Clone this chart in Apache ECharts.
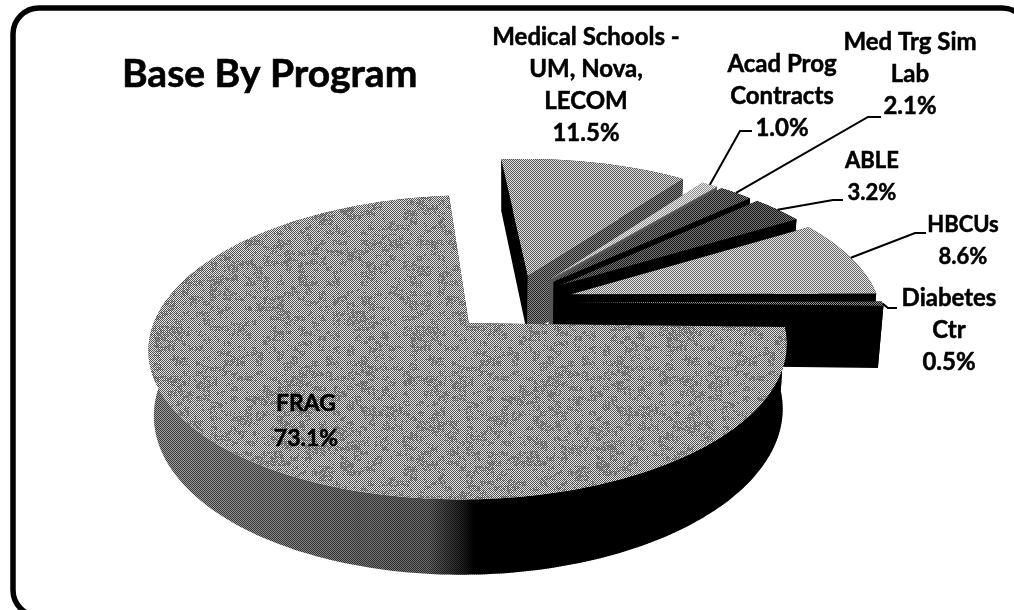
<!DOCTYPE html>
<html><head><meta charset="utf-8">
<style>html,body{margin:0;padding:0;background:#fff;overflow:hidden}#c{width:1014px;height:610px}</style>
<script src="https://cdn.jsdelivr.net/npm/echarts@6/dist/echarts.min.js"></script>
</head><body><div id="c"></div>
<script>
const categories = ['Medical Schools - UM, Nova, LECOM','Acad Prog Contracts','Med Trg Sim Lab','ABLE','HBCUs','Diabetes Ctr','FRAG'];
const values = [11.5,1.0,2.1,3.2,8.6,0.5,73.1];
const labelLines = [['Medical Schools -','UM, Nova,','LECOM','11.5%'],['Acad Prog','Contracts','1.0%'],['Med Trg Sim','Lab','2.1%'],['ABLE','3.2%'],['HBCUs','8.6%'],['Diabetes','Ctr','0.5%'],['FRAG','73.1%']];

// Layout of the projected disc
const CX=512, CY=302, R=308, EXPLODE=62, TILT=0.46, PERSP=2000, WALL=62, START_DEG=-5.4;
// Label anchors and leader elbows (layout only)
const labelPos=[[586,37],[782,64],[910,42],[872,161],[963,225],[949,298],[306,404]];
const labelSize=[24,24,24,22,22,24,23];
const elbows=[null,[[740,131],[752,131]],[[868,117],[881,117]],[[833,200],[843,200]],[[915,233],[926,233]],[[888,308],[897,308]],null];

function tile(seed,a,b,noise){
  const n=256,c=document.createElement('canvas');c.width=c.height=n;
  const g=c.getContext('2d');
  for(let y=0;y<n;y++)for(let x=0;x<n;x++){
    const light=(x+y)%2!==0;
    let col=light?b:a;
    if(noise&&light){
      let h=Math.sin(x*12.9898+y*78.233+seed)*43758.5453;h=h-Math.floor(h);
      let k=Math.sin(Math.floor(x/7)*3.1+Math.floor(y/5)*5.7+seed)*9631.17;k=k-Math.floor(k);
      if((k>0.6&&h>0.5)||h>0.97)col=noise;
    }
    g.fillStyle=col;g.fillRect(x,y,1,1);
  }
  return {image:c,repeat:'repeat'};
}
const topFill=[tile(1,'#5a5a5a','#e0e0e0'),tile(2,'#8a8a8a','#f0f0f0'),tile(3,'#1c1c1c','#7c7c7c'),tile(4,'#161616','#747474'),tile(5,'#666666','#e8e8e8'),tile(6,'#111111','#8c8c8c'),tile(7,'#505050','#e6e6e6','#989898')];
const cutFill=[['#000','#000'],['#555','#555'],['#000','#000'],['#000','#000'],['#000','#000'],['#000','#000'],['#000','#000']];
const medRight=tile(8,'#222222','#8a8a8a');
const wallDither=tile(9,'rgba(0,0,0,0.62)','rgba(0,0,0,0)');
const outerFill=['#000','#777','#000','#000','#000','#000',null];

function project(u,v,z){
  const p=PERSP/(PERSP-v);
  const xs=z?0.985:1;
  return [CX+u*p*xs, CY+v*TILT*p+z*p];
}
function geometry(idx){
  const total=values.reduce((a,b)=>a+b,0);
  let before=0;for(let i=0;i<idx;i++)before+=values[i];
  const a0=(START_DEG+before/total*360)*Math.PI/180;
  const a1=a0+values[idx]/total*2*Math.PI;
  const mid=(a0+a1)/2;
  return {a0,a1,mid,ou:EXPLODE*Math.sin(mid),ov:-EXPLODE*Math.cos(mid)};
}
function rim(g,z){
  const n=Math.max(4,Math.ceil((g.a1-g.a0)/0.02)),pts=[];
  for(let i=0;i<=n;i++){
    const t=g.a0+(g.a1-g.a0)*i/n;
    pts.push(project(g.ou+R*Math.sin(t),g.ov-R*Math.cos(t),z));
  }
  return pts;
}
function renderItem(params){
  const i=params.dataIndex,g=geometry(i);
  const apexT=project(g.ou,g.ov,0),apexB=project(g.ou,g.ov,WALL);
  const T=rim(g,0),B=rim(g,WALL),ch=[];
  const poly=(points,fill)=>ch.push({type:'polygon',shape:{points},style:{fill,stroke:null}});
  const wall=T.concat(B.slice().reverse());
  if(i===6){
    poly(wall,{type:'linear',x:150,y:0,x2:474,y2:0,global:true,colorStops:[{offset:0,color:'#a0a0a0'},{offset:0.55,color:'#808080'},{offset:0.86,color:'#6c6c6c'},{offset:0.97,color:'#1c1c1c'},{offset:1,color:'#000'}]});
    poly(wall,wallDither);
  } else {
    poly(wall,outerFill[i]);
  }
  poly([apexT,T[0],B[0],apexB],cutFill[i][0]);
  poly([apexT,T[T.length-1],B[B.length-1],apexB],i===0?medRight:cutFill[i][1]);
  poly([apexT].concat(T),topFill[i]);
  if(elbows[i]){
    const a=project(g.ou+R*Math.sin(g.mid),g.ov-R*Math.cos(g.mid),0);
    ch.push({type:'polyline',shape:{points:[a].concat(elbows[i])},style:{stroke:'#000',lineWidth:2,fill:null}});
  }
  const lh=i===6?35:32;
  labelLines[i].forEach((t,k)=>{
    ch.push({type:'text',style:{text:t,x:labelPos[i][0],y:labelPos[i][1]+k*lh,align:'center',verticalAlign:'middle',
      font:'bold '+labelSize[i]+'px Lato, sans-serif',fill:'#000',stroke:'#000',lineWidth:0.5},z2:10});
  });
  return {type:'group',children:ch};
}
const chart=echarts.init(document.getElementById('c'),null,{renderer:'canvas',width:1014,height:610});
chart.setOption({
  animation:false,backgroundColor:'#fff',
  title:{text:'Base By Program',left:117,top:50,textStyle:{fontFamily:'Lato, sans-serif',fontWeight:'bold',fontSize:39,color:'#000',textBorderColor:'#000',textBorderWidth:0.6}},
  graphic:[{type:'rect',silent:true,z:-1,shape:{x:13,y:8,width:1015,height:608,r:26},style:{fill:'#fff',stroke:'#000',lineWidth:5.5}}],
  series:[{type:'custom',coordinateSystem:'none',data:categories.map((name,i)=>({name,value:values[i]})),renderItem,clip:false}]
});
</script></body></html>
